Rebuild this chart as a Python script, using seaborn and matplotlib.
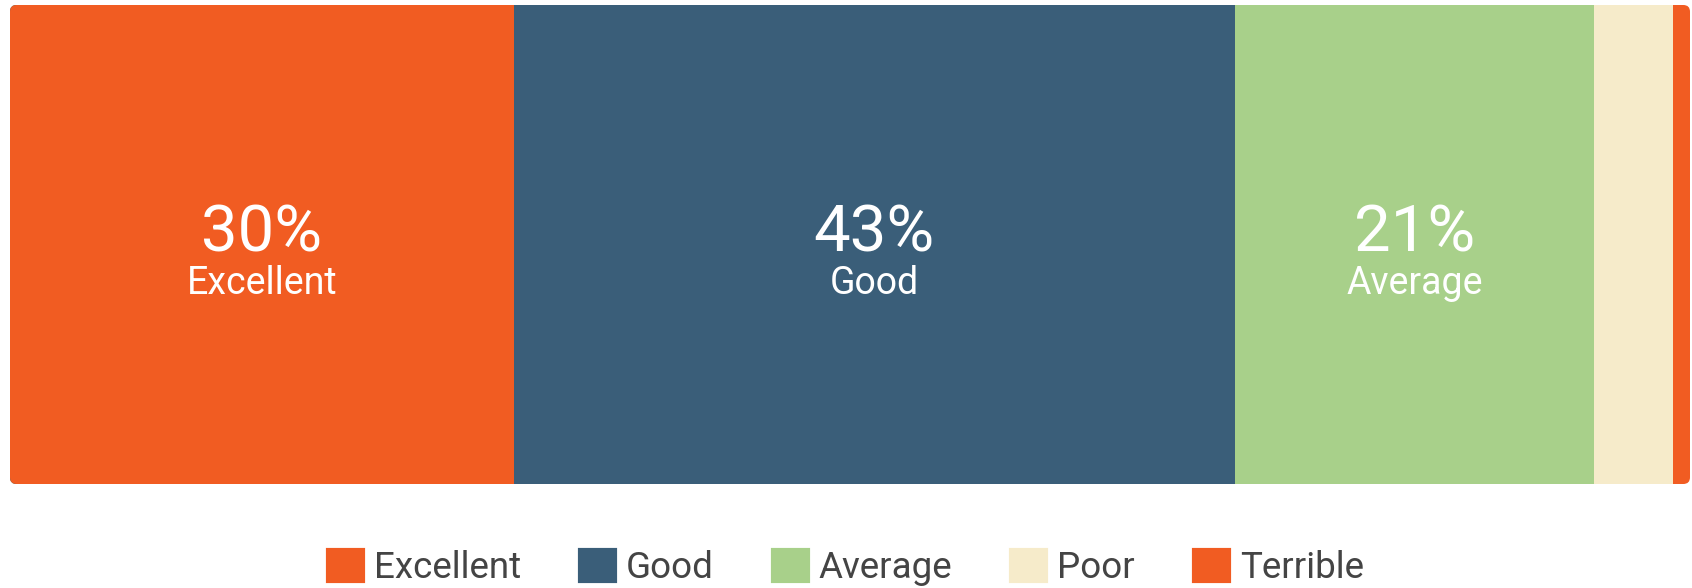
import numpy as np
import matplotlib
matplotlib.use("Agg")
import matplotlib.pyplot as plt
import seaborn as sns
import pandas as pd
from matplotlib.patches import Patch, FancyBboxPatch

# data (percent of responses)
categories = ['Excellent', 'Good', 'Average', 'Poor', 'Terrible']
values = [30.0, 42.9, 21.4, 4.7, 1.0]
colors = ['#F15C22', '#3A5E79', '#A8D08A', '#F6EBCA', '#F15C22']
show_label = [True, True, True, False, False]

sns.set_theme(style='white')
plt.rcParams['font.family'] = ['Roboto', 'DejaVu Sans']

fig = plt.figure(figsize=(16.92, 5.88), dpi=100)
ax = fig.add_axes([10 / 1692, (588 - 484) / 588, 1680 / 1692, 479 / 588])

cum = np.cumsum(values)
df = pd.DataFrame({'cat': categories, 'value': values, 'cum': cum, 'row': ['all'] * 5})

# stacked bar: draw cumulative totals from the widest to the narrowest
for i in range(len(categories) - 1, -1, -1):
    sns.barplot(data=df.iloc[[i]], x='cum', y='row', color=colors[i],
                width=1.0, saturation=1, orient='h', ax=ax, linewidth=0)

ax.set_xlim(0, cum[-1])
ax.set_ylim(0.5, -0.5)
ax.axis('off')

# rounded corners for the whole bar
clip = FancyBboxPatch((0, -0.5), cum[-1], 1.0,
                      boxstyle='round,pad=0,rounding_size=0.4',
                      mutation_aspect=0.01 * 1680 / 479,
                      transform=ax.transData, facecolor='none', edgecolor='none')
ax.add_patch(clip)
for p in ax.patches:
    if p is not clip:
        p.set_clip_path(clip)

starts = cum - np.array(values)
for s, v, c, show in zip(starts, values, categories, show_label):
    if not show:
        continue
    xc = s + v / 2
    ax.text(xc, -0.024, f'{round(v)}%', color='white', fontsize=47,
            ha='center', va='center')
    ax.text(xc, 0.082, c, color='white', fontsize=27, ha='center', va='center')

handles = [Patch(facecolor=col, edgecolor=col, linewidth=3, joinstyle='round', label=c)
           for c, col in zip(categories, colors)]
fig.legend(handles=handles, loc='center', bbox_to_anchor=(0.5, 20 / 588), ncol=5,
           frameon=False, fontsize=26.5, handlelength=0.95, handleheight=0.95,
           handletextpad=0.3, columnspacing=1.6, labelcolor='#444444')

fig.savefig('out.png', dpi=100)
